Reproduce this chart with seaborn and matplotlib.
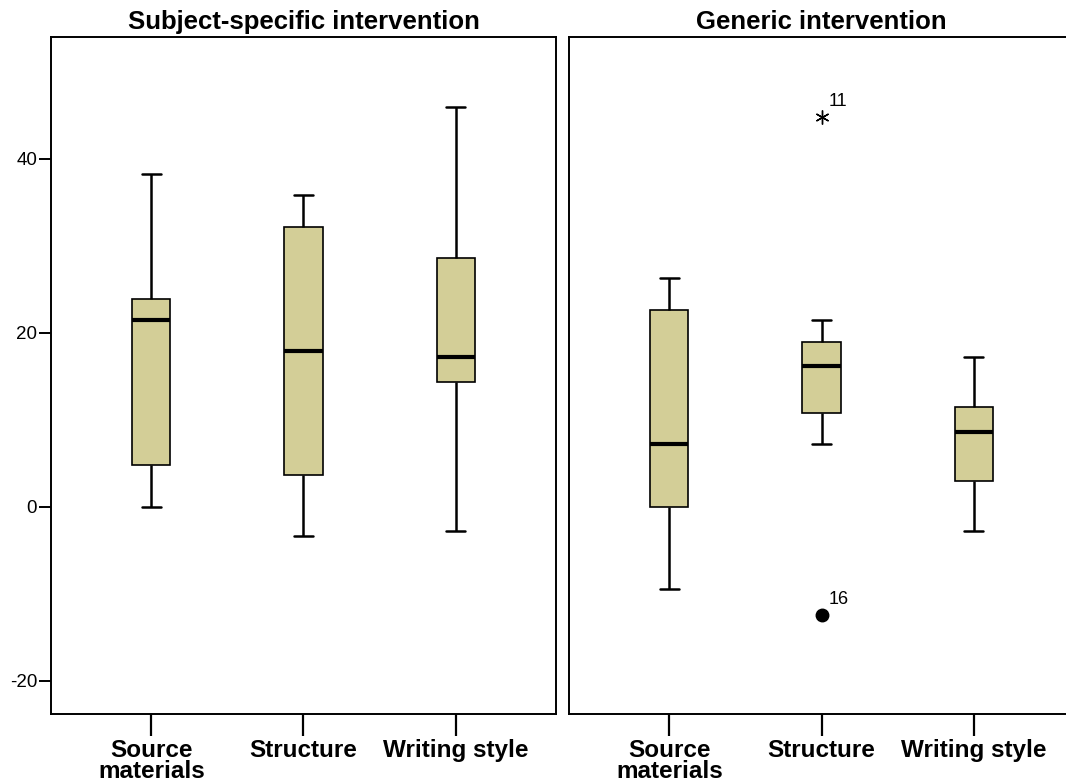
import numpy as np
import pandas as pd
import matplotlib
matplotlib.use("Agg")
import matplotlib.pyplot as plt
import seaborn as sns

# Components rated in each intervention group
components = ["Source\nmaterials", "Structure", "Writing style"]
panels = ["Subject-specific intervention", "Generic intervention"]

# Five-number summaries per component (whisker low, Q1, median, Q3, whisker high)
subject_low = [0.0, -3.4, -2.8]
subject_q1 = [4.8, 3.7, 14.4]
subject_median = [21.5, 17.9, 17.2]
subject_q3 = [23.9, 32.2, 28.6]
subject_high = [38.2, 35.9, 45.9]

generic_low = [-9.4, 7.2, -2.8]
generic_q1 = [0.0, 10.8, 3.0]
generic_median = [7.2, 16.2, 8.6]
generic_q3 = [22.6, 18.9, 11.5]
generic_high = [26.3, 21.5, 17.2]

# Outlying cases in the generic group (Structure)
outlier_component = ["Structure", "Structure"]
outlier_values = [44.8, -12.4]
outlier_cases = ["11", "16"]
outlier_extreme = [True, False]

yticks = [-20, 0, 20, 40]

sns.set_style("ticks")
plt.rcParams["font.family"] = ["Liberation Sans", "DejaVu Sans"]
plt.rcParams["axes.unicode_minus"] = False
plt.rcParams["text.color"] = "black"
plt.rcParams["xtick.color"] = "black"
plt.rcParams["ytick.color"] = "black"
plt.rcParams["axes.labelcolor"] = "black"

BOX_COLOR = "#D3CE97"


def long_frame(low, q1, med, q3, high):
    rows = []
    for i, comp in enumerate(components):
        for v in (low[i], q1[i], med[i], q3[i], high[i]):
            rows.append({"component": comp, "score": v})
    return pd.DataFrame(rows)


frames = [
    long_frame(subject_low, subject_q1, subject_median, subject_q3, subject_high),
    long_frame(generic_low, generic_q1, generic_median, generic_q3, generic_high),
]

W, H = 1066, 782
fig = plt.figure(figsize=(W / 100, H / 100), dpi=100)
ax_w = 505 / W
ax_b = 68 / H
ax_h = 677 / H
axes = [
    fig.add_axes([51 / W, ax_b, ax_w, ax_h]),
    fig.add_axes([569 / W, ax_b, ax_w, ax_h]),
]

for k, (ax, df, title) in enumerate(zip(axes, frames, panels)):
    sns.boxplot(
        data=df, x="component", y="score", order=components, ax=ax,
        color=BOX_COLOR, saturation=1, width=0.25, whis=(0, 100),
        linecolor="black", linewidth=1.2,
        medianprops=dict(linewidth=3.0, color="black"),
        whiskerprops=dict(linewidth=1.8),
        capprops=dict(linewidth=1.8),
        showfliers=False,
    )
    ax.set_xlim(-0.66, 2.66)
    ax.set_ylim(-23.8, 54.0)
    ax.set_xlabel("")
    ax.set_ylabel("")
    ax.set_title(title, fontsize=18.5, fontweight="bold", pad=6, color="black")
    for side in ("top", "right", "left", "bottom"):
        ax.spines[side].set_visible(True)
        ax.spines[side].set_linewidth(1.4)
        ax.spines[side].set_color("black")
    ax.tick_params(axis="x", length=16, width=1.6, pad=2, labelsize=17.5)
    for lab in ax.get_xticklabels():
        lab.set_fontweight("bold")
        lab.set_linespacing(0.88)
    ax.set_yticks(yticks)
    if k == 0:
        ax.tick_params(axis="y", length=9, width=1.4, pad=1, labelsize=13.5)
    else:
        ax.tick_params(axis="y", left=False, labelleft=False)

# Outliers and their case numbers in the generic panel
ax = axes[1]
for comp, val, case, extreme in zip(outlier_component, outlier_values,
                                    outlier_cases, outlier_extreme):
    xpos = components.index(comp)
    if extreme:
        ax.plot(xpos, val, marker=(6, 2, 0), markersize=10, color="black",
                markeredgewidth=1.0, linestyle="none")
    else:
        ax.plot(xpos, val, marker="o", markersize=9, color="black",
                linestyle="none")
    ax.annotate(case, (xpos, val), xytext=(5, 5), textcoords="offset points",
                fontsize=13, ha="left", va="bottom")

fig.savefig("out.png", dpi=100)
